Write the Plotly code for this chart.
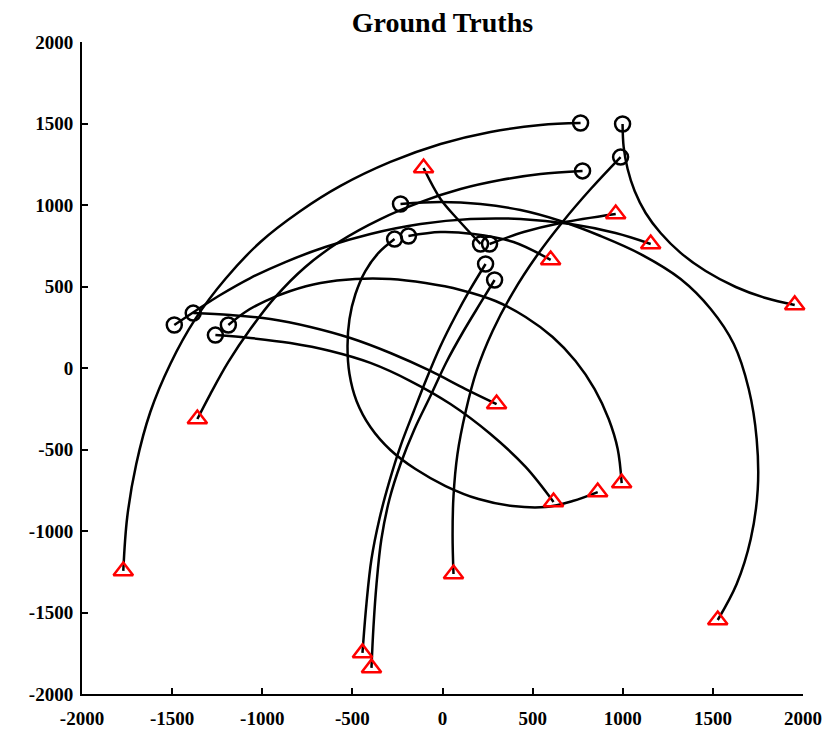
import plotly.graph_objects as go

# Ground-truth trajectories: each track starts at a circle and ends at a triangle.
t01_x = [766, 544, 266, -11, -289, -566, -788, -1010, -1205, -1371, -1510, -1621, -1699, -1749, -1771]
t01_y = [1503, 1491, 1448, 1374, 1264, 1117, 963, 773, 546, 301, 25, -270, -589, -914, -1245]

t02_x = [999, 1005, 1027, 1066, 1127, 1210, 1321, 1460, 1627, 1793, 1954]
t02_y = [1497, 1356, 1221, 1086, 951, 828, 706, 595, 497, 429, 387]

t03_x = [777, 544, 322, 100, -122, -344, -566, -761, -927, -1066, -1188, -1288, -1360]
t03_y = [1209, 1190, 1153, 1098, 1018, 914, 779, 620, 436, 239, 37, -160, -313]

t04_x = [988, 822, 666, 522, 389, 278, 189, 128, 83, 61, 56, 61]
t04_y = [1294, 1098, 896, 687, 460, 227, -18, -270, -528, -785, -1031, -1264]

t05_x = [-233, -11, 211, 433, 655, 877, 1099, 1321, 1488, 1616, 1699, 1743, 1749, 1710, 1632, 1527]
t05_y = [1006, 1018, 1006, 969, 902, 810, 699, 546, 362, 147, -129, -436, -742, -1049, -1325, -1546]

t06_x = [-266, -355, -428, -483, -516, -527, -516, -477, -400, -289, -150, 17, 200, 389, 572, 722, 861]
t06_y = [791, 706, 595, 454, 301, 135, -37, -202, -362, -503, -620, -724, -804, -847, -853, -816, -761]

t07_x = [-189, -11, 172, 394, 600]
t07_y = [810, 834, 822, 773, 663]

t08_x = [211, 83, -11, -105]
t08_y = [761, 914, 1037, 1227]

t09_x = [261, 450, 655, 961]
t09_y = [761, 834, 890, 945]

t10_x = [239, 155, 72, -11, -89, -161, -233, -294, -350, -394, -422, -444]
t10_y = [638, 485, 319, 135, -67, -270, -479, -693, -926, -1172, -1448, -1748]

t11_x = [289, 211, 117, 22, -67, -155, -233, -294, -339, -366, -383, -394]
t11_y = [540, 399, 227, 37, -172, -374, -589, -804, -1049, -1325, -1589, -1840]

t12_x = [-1488, -1371, -1233, -1066, -872, -650, -400, -122, 155, 433, 711, 960, 1155]
t12_y = [264, 350, 448, 552, 650, 742, 822, 883, 914, 914, 883, 828, 761]

t13_x = [-1383, -1177, -955, -733, -511, -289, -67, 128, 300]
t13_y = [337, 325, 301, 252, 184, 92, -18, -129, -221]

t14_x = [-1188, -1094, -983, -844, -677, -483, -289, -94, 100, 294, 461, 611, 738, 844, 922, 972, 994]
t14_y = [264, 344, 411, 472, 521, 546, 546, 521, 479, 411, 313, 190, 43, -129, -313, -497, -706]

t15_x = [-1260, -1066, -844, -622, -400, -178, 44, 266, 461, 616]
t15_y = [202, 184, 153, 104, 31, -80, -221, -405, -607, -822]

tracks = [
    (t01_x, t01_y), (t02_x, t02_y), (t03_x, t03_y), (t04_x, t04_y), (t05_x, t05_y),
    (t06_x, t06_y), (t07_x, t07_y), (t08_x, t08_y), (t09_x, t09_y), (t10_x, t10_y),
    (t11_x, t11_y), (t12_x, t12_y), (t13_x, t13_y), (t14_x, t14_y), (t15_x, t15_y),
]

tick_vals = [-2000, -1500, -1000, -500, 0, 500, 1000, 1500, 2000]
tick_text = ["-2000", "-1500", "-1000", "-500", "0", "500", "1000", "1500", "2000"]

FONT = "Liberation Serif"

fig = go.Figure()

for xs, ys in tracks:
    fig.add_trace(go.Scatter(
        x=xs, y=ys, mode="lines",
        line=dict(color="black", width=2.5, shape="spline", smoothing=1),
        hoverinfo="skip", showlegend=False,
    ))

fig.add_trace(go.Scatter(
    x=[t[0][0] for t in tracks], y=[t[1][0] for t in tracks], mode="markers",
    marker=dict(symbol="circle-open", size=15, color="black", line=dict(width=2.5, color="black")),
    showlegend=False, cliponaxis=False,
))
fig.add_trace(go.Scatter(
    x=[t[0][-1] for t in tracks], y=[t[1][-1] for t in tracks], mode="markers",
    marker=dict(symbol="triangle-up-open", size=17, color="red", line=dict(width=2.5, color="red")),
    showlegend=False, cliponaxis=False,
))

axis_common = dict(
    range=[-2000, 2000], tickvals=tick_vals, ticktext=tick_text,
    ticks="inside", ticklen=6, tickwidth=2, tickcolor="black",
    showline=True, linewidth=2, linecolor="black", mirror=False,
    showgrid=False, zeroline=False, automargin=False,
    tickfont=dict(family=FONT, size=19, color="black", weight="bold"),
)

fig.update_layout(
    width=830, height=731,
    margin=dict(l=82, r=27, t=42, b=37, autoexpand=False),
    paper_bgcolor="white", plot_bgcolor="white",
    title=dict(
        text="Ground Truths", x=0.5, xref="paper", xanchor="center",
        y=1 - 22 / 731, yref="container", yanchor="middle",
        font=dict(family=FONT, size=28, color="black", weight="bold"),
    ),
    xaxis=dict(axis_common, ticklabelstandoff=6),
    yaxis=dict(axis_common, ticklabelstandoff=3),
)

fig.write_html("out.html")
